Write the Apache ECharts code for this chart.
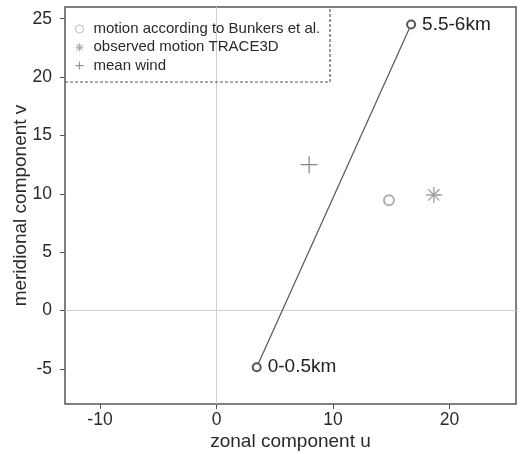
<!DOCTYPE html>
<html>
<head>
<meta charset="utf-8">
<style>
  html, body { margin: 0; padding: 0; background: #fff; }
  #chart { width: 520px; height: 454px; }
</style>
<script src="https://cdn.jsdelivr.net/npm/echarts@6/dist/echarts.min.js"></script>
</head>
<body>
<div id="chart"></div>
<script>
// Hodograph: wind at the bottom and top layer, joined by a line
const layerNames = ['0-0.5km', '5.5-6km'];
const layerU = [3.45, 16.7];
const layerV = [-4.85, 24.5];

// Storm motion estimates and mean wind (u, v)
const bunkersMotion = [14.8, 9.45];
const observedMotion = [18.65, 9.9];
const meanWind = [7.95, 12.5];

const seriesNames = ['motion according to Bunkers et al.', 'observed motion TRACE3D', 'mean wind'];

const xTicks = [-10, 0, 10, 20];
const yTicks = [-5, 0, 5, 10, 15, 20, 25];

const ASTERISK = 'path://M0,5L10,5M5,0L5,10M1.46,1.46L8.54,8.54M8.54,1.46L1.46,8.54';
const PLUS = 'path://M0,5L10,5M5,0L5,10';

const FONT = 'Liberation Sans, Arial, sans-serif';
const INK = '#2a2a2a';

const chart = echarts.init(document.getElementById('chart'), null, { renderer: 'canvas' });

const axisCommon = {
  type: 'value',
  axisLine: { show: false, onZero: false },
  splitLine: { show: false },
  axisTick: { show: true, inside: false, length: 5, lineStyle: { color: '#555', width: 1 } },
  axisLabel: { color: INK, fontSize: 17.5, fontFamily: FONT },
  nameLocation: 'middle',
  nameMoveOverlap: false,
  nameTextStyle: { color: INK, fontSize: 19, fontFamily: FONT }
};

chart.setOption({
  animation: false,
  backgroundColor: '#fff',
  grid: {
    left: 65, right: 4, top: 7, bottom: 50,
    containLabel: false, outerBoundsMode: 'none',
    show: true, borderColor: '#555', borderWidth: 1.5, backgroundColor: 'transparent'
  },
  xAxis: Object.assign({}, axisCommon, {
    min: -13, max: 25.7,
    name: 'zonal component u', nameGap: 28,
    axisTick: Object.assign({}, axisCommon.axisTick, { customValues: xTicks }),
    axisLabel: Object.assign({}, axisCommon.axisLabel, { customValues: xTicks, margin: 7 })
  }),
  yAxis: Object.assign({}, axisCommon, {
    min: -8, max: 26,
    name: 'meridional component v', nameGap: 35,
    axisTick: Object.assign({}, axisCommon.axisTick, { customValues: yTicks }),
    axisLabel: Object.assign({}, axisCommon.axisLabel, { customValues: yTicks, margin: 13 })
  }),
  legend: {
    orient: 'vertical',
    left: 73, top: 21,
    itemWidth: 10, itemHeight: 8, itemGap: 2.3,
    padding: 0,
    textStyle: { color: INK, fontSize: 15, lineHeight: 16, fontFamily: FONT, padding: [0, 0, 0, 4] },
    data: [
      { name: seriesNames[0], icon: 'circle', itemStyle: { color: '#fff', borderColor: '#aaa', borderWidth: 1 } },
      { name: seriesNames[1], icon: ASTERISK, itemStyle: { color: 'none', borderColor: '#999', borderWidth: 1.1 } },
      { name: seriesNames[2], icon: PLUS, itemStyle: { color: 'none', borderColor: '#777', borderWidth: 1.1 } }
    ]
  },
  graphic: [{
    type: 'polyline',
    shape: { points: [[65, 82], [330, 82], [330, 7]] },
    style: { fill: 'none', stroke: '#555', lineWidth: 1.2, lineDash: [3, 2] },
    z: 100
  }],
  series: [
    {
      type: 'line',
      name: 'hodograph',
      data: layerU.map((u, i) => [u, layerV[i]]),
      symbol: 'emptyCircle',
      symbolSize: 8,
      showAllSymbol: true,
      lineStyle: { color: '#555', width: 1.2 },
      itemStyle: { color: '#555', borderWidth: 1.2 },
      label: {
        show: true, position: 'right', distance: 6,
        color: '#222', fontSize: 19, fontFamily: FONT,
        formatter: p => layerNames[p.dataIndex]
      },
      markLine: {
        silent: true, symbol: 'none', animation: false,
        label: { show: false },
        lineStyle: { color: '#d0d0d0', width: 1, type: 'solid' },
        data: [{ xAxis: 0 }, { yAxis: 0 }],
        z: 1
      },
      z: 5
    },
    {
      type: 'scatter',
      name: seriesNames[0],
      data: [bunkersMotion],
      symbol: 'emptyCircle',
      symbolSize: 10,
      itemStyle: { color: '#9a9a9a', borderWidth: 1.3 }
    },
    {
      type: 'scatter',
      name: seriesNames[1],
      data: [observedMotion],
      symbol: ASTERISK,
      symbolSize: 16,
      itemStyle: { color: 'none', borderColor: '#8a8a8a', borderWidth: 1.3 }
    },
    {
      type: 'scatter',
      name: seriesNames[2],
      data: [meanWind],
      symbol: PLUS,
      symbolSize: 17,
      itemStyle: { color: 'none', borderColor: '#666', borderWidth: 1.2 }
    }
  ]
});
</script>
</body>
</html>
